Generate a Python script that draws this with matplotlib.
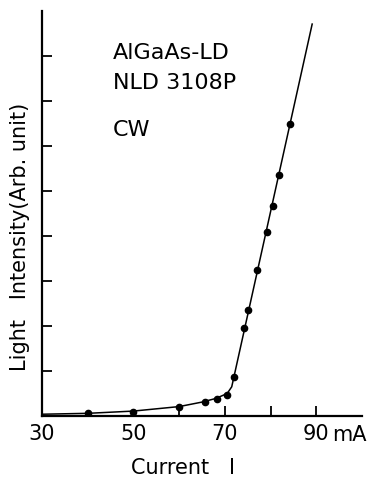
import matplotlib
matplotlib.use("Agg")
import matplotlib.pyplot as plt

# measured points (current in mA, light intensity in arb. units)
current_pts = [40, 50, 60, 65.6, 68.2, 70.4, 71.9, 74.1, 75.0, 77.0, 79.2, 80.5, 81.9, 84.3]
light_pts = [0.07, 0.09, 0.20, 0.31, 0.38, 0.47, 0.87, 1.96, 2.36, 3.24, 4.09, 4.67, 5.36, 6.49]

# hand-drawn fit curve
curve_x = [30, 40, 50, 60, 65, 68, 70.5, 71.5, 89.1]
curve_y = [0.04, 0.06, 0.11, 0.21, 0.31, 0.39, 0.5, 0.65, 8.71]

x_ticks = [30, 40, 50, 60, 70, 80, 90]
x_tick_labels = ["30", "", "50", "", "70", "", "90"]
y_marks = [1, 2, 3, 4, 5, 6, 7, 8]

fig = plt.figure(figsize=(3.69, 4.81), dpi=100)
ax = fig.add_axes([0.114, 0.133, 0.867, 0.842])

ax.plot(curve_x, curve_y, color="black", lw=1.1)
ax.plot(current_pts, light_pts, "o", color="black", ms=4.5)

ax.set_xlim(30, 100)
ax.set_ylim(0, 9)

for s in ["top", "right"]:
    ax.spines[s].set_visible(False)
for s in ["left", "bottom"]:
    ax.spines[s].set_linewidth(1.6)

ax.set_xticks(x_ticks)
ax.set_xticklabels(x_tick_labels, fontsize=15)
ax.tick_params(axis="x", direction="in", length=7, width=1.3, pad=5)
# no tick marks drawn at 30, 40, 50
for t in ax.xaxis.get_major_ticks()[:3]:
    t.tick1line.set_visible(False)

ax.set_yticks(y_marks)
ax.set_yticklabels([])
ax.tick_params(axis="y", direction="in", length=7, width=1.3)

ax.text(93.5, -0.17, "mA", fontsize=15, ha="left", va="top", clip_on=False)

fig.text(0.496, 0.027, "Current   I", fontsize=15, ha="center", va="center")
fig.text(0.054, 0.507, "Light   Intensity(Arb. unit)", fontsize=15,
         ha="center", va="center", rotation=90)

ax.text(45.5, 8.09, "AlGaAs-LD", fontsize=16, va="center")
ax.text(45.5, 7.42, "NLD 3108P", fontsize=16, va="center")
ax.text(45.5, 6.38, "CW", fontsize=16, va="center")

fig.savefig("out.png", dpi=100)
